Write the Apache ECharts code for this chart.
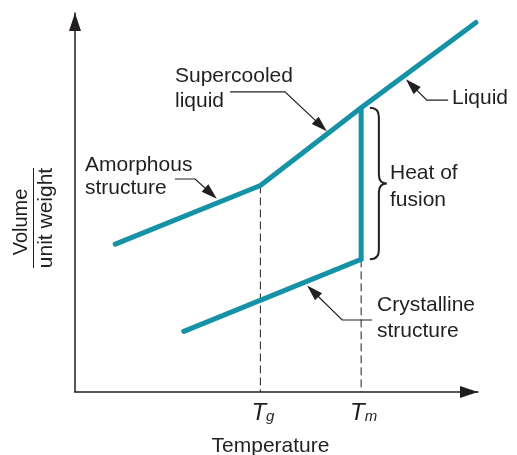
<!DOCTYPE html>
<html><head><meta charset="utf-8">
<script src="https://cdn.jsdelivr.net/npm/echarts@6/dist/echarts.min.js"></script>
<style>html,body{margin:0;padding:0;background:#fff}#c{width:517px;height:455px}</style>
</head><body><div id="c"></div>
<script>
const FONT = 'Liberation Sans, Arial, Helvetica, sans-serif';
const TEAL = '#1592a6';
const INK = '#231f20';

// Volume per unit weight vs temperature (arbitrary units)
const amorphousToLiquid = [[10, 39], [46, 54.5], [71, 75], [99.5, 97.5]];
const crystalline = [[27, 16], [71, 35], [71, 75]];
const tickValues = [46, 71];
const tickMain = ['T', 'T'];
const tickSub = ['g', 'm'];
const dashTg = [[46, 54.5], [46, 0]];
const dashTm = [[71, 35], [71, 0]];
const braceSpan = [[75.4, 75, 35]];           // x, top, bottom
const leaders = [                              // start, corner, arrow tip
  [24.8, 56.2, 29.8, 56.2, 35.2, 51.0],
  [38.5, 79.2, 52.1, 79.2, 62.5, 68.8],
  [92.6, 77.0, 87.3, 77.0, 82.1, 82.5],
  [73.7, 19.0, 66.3, 19.0, 57.6, 28.1]
];
const annotationTexts = ['Supercooled', 'liquid', 'Amorphous', 'structure', 'Liquid',
  'Heat of', 'fusion', 'Crystalline', 'structure'];
const xTitle = 'Temperature';
const yTitleTop = 'Volume';
const yTitleBottom = 'unit weight';

// layout (pixel left, baseline) for annotation texts
const textLayout = [[175, 83], [175, 108], [85, 172], [85, 195], [452, 105],
  [390, 180], [390, 207], [377, 312], [377, 338]];

const chart = echarts.init(document.getElementById('c'), null, { renderer: 'canvas' });

const graphics = annotationTexts.map((t, i) => ({
  type: 'text', x: textLayout[i][0], y: textLayout[i][1] - 7,
  style: { text: t, font: '21px ' + FONT, fill: INK, align: 'left', verticalAlign: 'middle' }
}));
graphics.push(
  { type: 'text', x: 270.5, y: 446, style: { text: xTitle, font: '21px ' + FONT, fill: INK, align: 'center', verticalAlign: 'middle' } },
  { type: 'text', x: 21, y: 222, rotation: Math.PI / 2, style: { text: yTitleTop, font: '20px ' + FONT, fill: INK, align: 'center', verticalAlign: 'middle' } },
  { type: 'text', x: 46.5, y: 218, rotation: Math.PI / 2, style: { text: yTitleBottom, font: '21px ' + FONT, fill: INK, align: 'center', verticalAlign: 'middle' } },
  { type: 'line', shape: { x1: 33.5, y1: 168, x2: 33.5, y2: 268 }, style: { stroke: INK, lineWidth: 1 } }
);

const option = {
  animation: false,
  backgroundColor: '#fff',
  grid: { left: 75, right: 39, top: 13, bottom: 63, outerBoundsMode: 'none' },
  xAxis: {
    type: 'value', min: 0, max: 100,
    splitLine: { show: false }, axisTick: { show: false },
    axisLine: { show: true, symbol: ['none', 'triangle'], symbolSize: [12, 18], symbolOffset: [0, -9],
      lineStyle: { color: INK, width: 1.5 } },
    axisLabel: {
      customValues: tickValues, margin: 9, color: INK,
      formatter: v => { const i = tickValues.indexOf(v); return i < 0 ? '' : '{t|' + tickMain[i] + '}{s|' + tickSub[i] + '}'; },
      rich: {
        t: { fontSize: 24, fontStyle: 'italic', fontFamily: FONT, color: INK, padding: [0, 0, 0, 5] },
        s: { fontSize: 15, fontStyle: 'italic', fontFamily: FONT, color: INK, padding: [8, 0, 0, 0] }
      }
    }
  },
  yAxis: {
    type: 'value', min: 0, max: 100,
    splitLine: { show: false }, axisTick: { show: false }, axisLabel: { show: false },
    axisLine: { show: true, symbol: ['none', 'triangle'], symbolSize: [12, 18], symbolOffset: [0, -9],
      lineStyle: { color: INK, width: 1.5 } }
  },
  series: [
    { type: 'line', data: dashTg, showSymbol: false, silent: true, z: 1,
      lineStyle: { color: INK, width: 1, type: [8, 4] } },
    { type: 'line', data: dashTm, showSymbol: false, silent: true, z: 1,
      lineStyle: { color: INK, width: 1, type: [8, 4] } },
    { type: 'line', data: amorphousToLiquid, showSymbol: false, z: 3,
      lineStyle: { color: TEAL, width: 5, cap: 'round', join: 'round' } },
    { type: 'line', data: crystalline, showSymbol: false, z: 3,
      lineStyle: { color: TEAL, width: 5, cap: 'round', join: 'miter' } },
    { type: 'custom', data: leaders, z: 4, silent: true,
      renderItem: (params, api) => {
        const a = api.coord([api.value(0), api.value(1)]);
        const b = api.coord([api.value(2), api.value(3)]);
        const c = api.coord([api.value(4), api.value(5)]);
        const dx = c[0] - b[0], dy = c[1] - b[1], L = Math.hypot(dx, dy);
        const ux = dx / L, uy = dy / L, len = 16, hw = 5;
        const base = [c[0] - ux * len, c[1] - uy * len];
        return { type: 'group', children: [
          { type: 'polyline', shape: { points: [a, b, [c[0] - ux * len * 0.6, c[1] - uy * len * 0.6]] },
            style: { stroke: INK, lineWidth: 1.2, fill: null } },
          { type: 'polygon', shape: { points: [c, [base[0] - uy * hw, base[1] + ux * hw], [base[0] + uy * hw, base[1] - ux * hw]] },
            style: { fill: INK } }
        ] };
      } },
    { type: 'custom', data: braceSpan, z: 4, silent: true,
      renderItem: (params, api) => {
        const top = api.coord([api.value(0), api.value(1)]);
        const bot = api.coord([api.value(0), api.value(2)]);
        const xb = top[0], yT = top[1], yB = bot[1], yM = (yT + yB) / 2;
        const x0 = xb - 9, xt = xb + 8, r = 9;
        const d = `M${x0},${yT} Q${xb},${yT} ${xb},${yT + r} L${xb},${yM - r} Q${xb},${yM} ${xt},${yM} Q${xb},${yM} ${xb},${yM + r} L${xb},${yB - r} Q${xb},${yB} ${x0},${yB}`;
        return { type: 'path', shape: { pathData: d }, style: { stroke: INK, lineWidth: 2, fill: null } };
      } }
  ],
  graphic: graphics
};
chart.setOption(option);
</script></body></html>
